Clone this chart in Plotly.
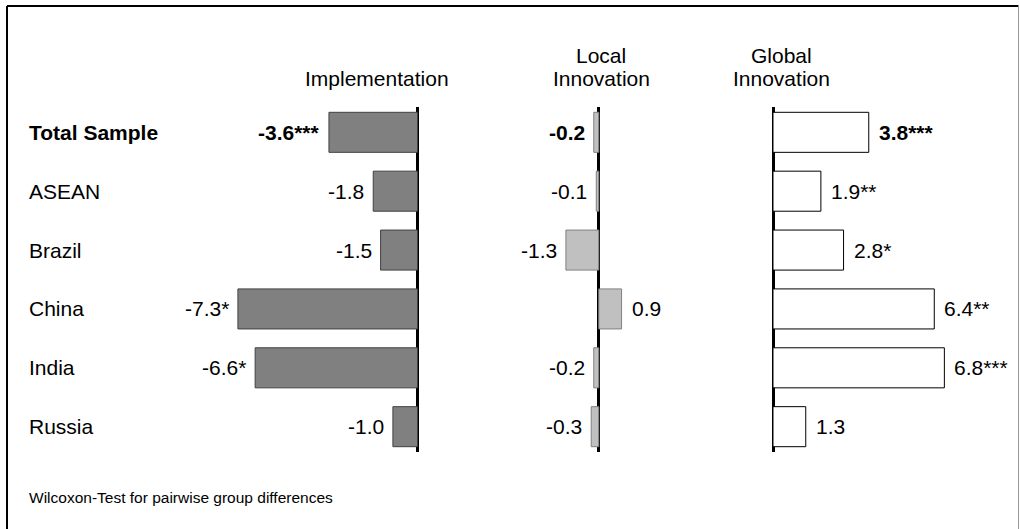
import plotly.graph_objects as go

# ---- data ----
categories = ["Total Sample", "ASEAN", "Brazil", "China", "India", "Russia"]
implementation = [-3.6, -1.8, -1.5, -7.3, -6.6, -1.0]
implementation_sig = ["***", "", "", "*", "*", ""]
local_innovation = [-0.2, -0.1, -1.3, 0.9, -0.2, -0.3]
local_sig = ["", "", "", "", "", ""]
global_innovation = [3.8, 1.9, 2.8, 6.4, 6.8, 1.3]
global_sig = ["***", "**", "*", "**", "***", ""]
panel_titles = [["Implementation"], ["Local", "Innovation"], ["Global", "Innovation"]]
footnote = "Wilcoxon-Test for pairwise group differences"

W, H = 1020, 529
FONT = "Liberation Sans, Arial, sans-serif"
FS = 21

# panel geometry: (zero position px, px per unit, range)
panels = [
    dict(values=implementation, sig=implementation_sig, zero=417.5, ppu=24.6, rng=[-8.0, 0.5],
         fill="#808080", line="#404040", title_x=377),
    dict(values=local_innovation, sig=local_sig, zero=598.8, ppu=25.3, rng=[-1.6, 1.2],
         fill="#c0c0c0", line="#808080", title_x=601),
    dict(values=global_innovation, sig=global_sig, zero=773.0, ppu=25.2, rng=[-0.4, 7.2],
         fill="#ffffff", line="#000000", title_x=781),
]

y_top_px, y_bot_px = 107, 452
ydom = [1 - y_bot_px / H, 1 - y_top_px / H]

fig = go.Figure()
annotations = []

for i, p in enumerate(panels):
    ax = "" if i == 0 else str(i + 1)
    x0 = (p["zero"] + p["rng"][0] * p["ppu"]) / W
    x1 = (p["zero"] + p["rng"][1] * p["ppu"]) / W
    fig.add_trace(go.Bar(
        x=p["values"], y=categories, orientation="h",
        marker=dict(color=p["fill"], line=dict(color=p["line"], width=1)),
        width=0.68, xaxis="x" + ax, yaxis="y" + ax, hoverinfo="skip",
    ))
    fig.update_layout(**{
        "xaxis" + ax: dict(domain=[x0, x1], range=p["rng"], showgrid=False, showticklabels=False,
                           ticks="", zeroline=True, zerolinecolor="black", zerolinewidth=2.5,
                           anchor="y" + ax, fixedrange=True),
        "yaxis" + ax: dict(domain=ydom, range=[5.43, -0.43], type="category",
                           categoryorder="array", categoryarray=categories,
                           showgrid=False, showticklabels=False, ticks="", zeroline=False,
                           anchor="x" + ax, fixedrange=True),
    })
    for j, (v, s) in enumerate(zip(p["values"], p["sig"])):
        txt = f"{v:.1f}{s}"
        if j == 0:
            txt = f"<b>{txt}</b>"
        annotations.append(dict(
            x=v, y=categories[j], xref="x" + ax, yref="y" + ax, text=txt, showarrow=False,
            xanchor="right" if v < 0 else "left", xshift=-7 if v < 0 else 8,
            font=dict(family=FONT, size=FS, color="black"),
        ))
    # titles
    lines = panel_titles[i]
    ys = [79] if len(lines) == 1 else [55, 79]
    for line, ypx in zip(lines, ys):
        annotations.append(dict(
            x=p["title_x"] / W, y=1 - ypx / H, xref="paper", yref="paper", text=line,
            showarrow=False, xanchor="center", yanchor="middle",
            font=dict(family=FONT, size=FS, color="black"),
        ))

# category labels
for j, c in enumerate(categories):
    annotations.append(dict(
        x=27 / W, y=c, xref="paper", yref="y", text=f"<b>{c}</b>" if j == 0 else c,
        showarrow=False, xanchor="left", font=dict(family=FONT, size=FS, color="black"),
    ))

annotations.append(dict(
    x=27 / W, y=1 - 497 / H, xref="paper", yref="paper", text=footnote, showarrow=False,
    xanchor="left", yanchor="middle", font=dict(family=FONT, size=15.5, color="black"),
))

shapes = [
    dict(type="line", xref="paper", yref="paper", x0=7 / W, x1=1018.5 / W, y0=1 - 6 / H, y1=1 - 6 / H,
         line=dict(color="black", width=2)),
    dict(type="line", xref="paper", yref="paper", x0=7 / W, x1=7 / W, y0=1 - 6 / H, y1=-0.05,
         line=dict(color="black", width=2)),
    dict(type="line", xref="paper", yref="paper", x0=1018.5 / W, x1=1018.5 / W, y0=1 - 6 / H, y1=-0.05,
         line=dict(color="#999999", width=1)),
]

fig.update_layout(
    width=W, height=H, margin=dict(l=0, r=0, t=0, b=0),
    paper_bgcolor="white", plot_bgcolor="rgba(0,0,0,0)",
    showlegend=False, annotations=annotations, shapes=shapes,
    font=dict(family=FONT),
)

fig.write_html("out.html", config={"displayModeBar": False},
               post_script="document.body.style.margin='0px';document.body.style.overflow='hidden';")
